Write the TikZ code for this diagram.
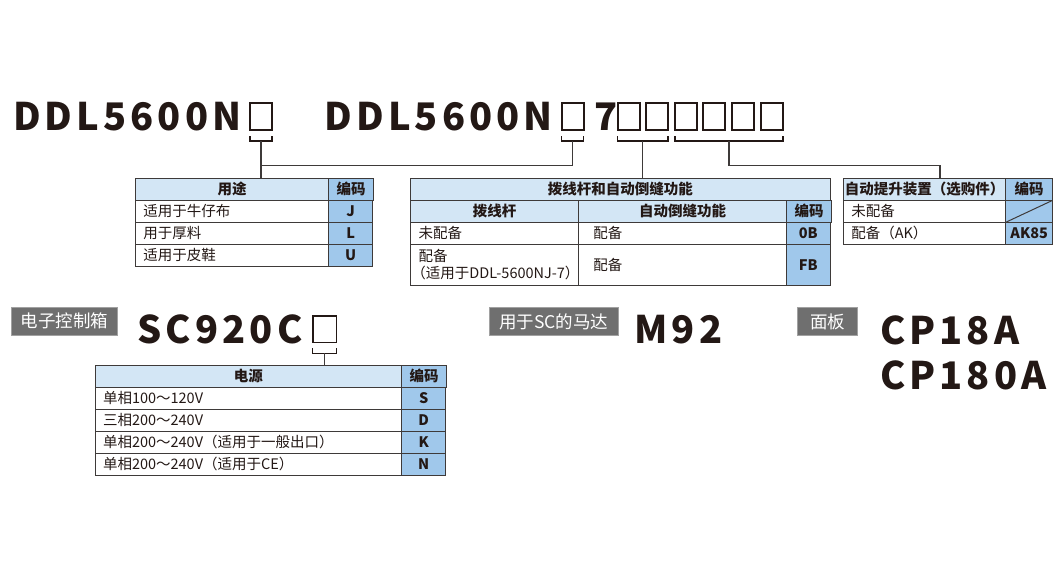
\documentclass[tikz,border=0pt]{standalone}
\usepackage{fontspec}
\setmainfont{Noto Sans CJK SC}
\newfontfamily\modelfont[LetterSpace=10.8]{Noto Sans CJK SC}
\usetikzlibrary{calc}
\definecolor{ink}{HTML}{231815}
\definecolor{rule}{HTML}{3E3A39}
\definecolor{headblue}{HTML}{D3E6F5}
\definecolor{codeblue}{HTML}{A0C8EB}
\definecolor{labelgray}{HTML}{6F6F6F}
\tikzset{
	ordering/.is family,
	ordering/.cd,
	model/.style = {
		anchor = base west,
		inner sep = 0pt,
		outer sep = 0pt,
		text = ink,
		font = \modelfont\bfseries\fontsize{38}{38}\selectfont,
	},
	slot/.style = {
		draw = ink,
		line width = 1.8pt,
		inner sep = 0pt,
		outer sep = 0pt,
		minimum width = 22pt,
		minimum height = 27pt,
		anchor = south west,
	},
	bracket/.style = {
		draw = ink,
		line width = 1.2pt,
	},
	link/.style = {
		draw = rule,
		line width = 1.2pt,
	},
	tag/.style = {
		fill = labelgray,
		draw = labelgray!65!white,
		line width = 0.8pt,
		text = white,
		inner sep = 0pt,
		outer sep = 0pt,
		minimum height = 28pt,
		anchor = north west,
		font = \fontsize{17.5}{17.5}\selectfont,
	},
	cell/.style = {
		draw = rule,
		line width = 1pt,
		inner ysep = 0pt,
		inner xsep = 8pt,
		outer sep = 0pt,
		minimum height = 22pt,
		anchor = north west,
		align = left,
		text = ink,
		font = \fontsize{14.5}{17}\selectfont,
	},
	head/.style = {
		ordering/cell,
		fill = headblue,
		align = center,
		font = \bfseries\fontsize{14.5}{17}\selectfont,
	},
	code head/.style = {
		ordering/head,
		fill = codeblue,
	},
	code/.style = {
		ordering/cell,
		fill = codeblue,
		align = center,
		inner xsep = 0pt,
		font = \bfseries\fontsize{14.5}{17}\selectfont,
	},
}

\begin{document}
\begin{tikzpicture}[x = 1pt, y = -1pt]
	\useasboundingbox (0, 0) rectangle (1060, 573);

	% model numbers and their code slots
	\node[ordering/model] (sewer) at (13, 130.7) {DDL5600N};
	\node[ordering/slot] (b1) at (250, 130) {};
	\node[ordering/model] (sewerfull) at (324.5, 130.7) {DDL5600N};
	\node[ordering/slot] (b2) at (561.6, 130) {};
	\node[ordering/model] (seven) at (594, 130.7) {7};
	\foreach \x [count = \i from 3] in {617.6, 645.9, 674.9, 703.2, 731.6, 760.9} {
		\node[ordering/slot] (b\i) at (\x, 130) {};
	}
	\node[ordering/model] (control) at (137.5, 343.3) {SC920C};
	\node[ordering/slot, minimum width = 23.8pt, minimum height = 26.5pt] (b9) at (312.6, 342.4) {};
	\node[ordering/model] (motor) at (634.5, 343.3) {M92};
	\node[ordering/model] (panel) at (880, 344.3) {CP18A};
	\node[ordering/model] (panelalt) at (880, 389) {CP180A};

	\node[ordering/tag, minimum width = 105.6pt] (controltag) at (11.7, 307.3) {电子控制箱};
	\node[ordering/tag, minimum width = 129pt] (motortag) at (489.3, 307.7) {用于SC的马达};
	\node[ordering/tag, minimum width = 60.4pt] (paneltag) at (797.3, 307.7) {面板};

	% usage
	\node[ordering/head, minimum width = 193.4pt] (use) at (135.3, 178.3) {用途};
	\node[ordering/code head, minimum width = 44pt] (usecode) at (use.north east) {编码};
	\foreach \txt/\c [count = \i] in {适用于牛仔布/J, 用于厚料/L, 适用于皮鞋/U} {
		\node[ordering/cell, text width = 177.4pt] (use\i) at (135.3, 178.3 + 22 * \i) {\txt};
		\node[ordering/code, minimum width = 44pt] (use\i c) at (use\i.north east) {\c};
	}

	% thread wiper and back-tack
	\node[ordering/head, minimum width = 419.3pt] (lever) at (410.7, 178.3) {拨线杆和自动倒缝功能};
	\node[ordering/head, minimum width = 167.6pt] (levera) at (lever.south west) {拨线杆};
	\node[ordering/head, minimum width = 208.4pt] (leverb) at (levera.north east) {自动倒缝功能};
	\node[ordering/code head, minimum width = 43.3pt] (levercode) at (leverb.north east) {编码};
	\node[ordering/cell, text width = 151.6pt] (lever1) at (levera.south west) {未配备};
	\node[ordering/cell, inner xsep = 15pt, text width = 178.4pt] (lever1b) at (lever1.north east) {配备};
	\node[ordering/code, minimum width = 43.3pt] (lever1c) at (lever1b.north east) {0B};
	\node[ordering/cell, text width = 151.6pt, minimum height = 40.7pt] (lever2) at (lever1.south west) {配备\\\mbox{\addfontfeatures{CharacterWidth = AlternateHalf}（适用于DDL-5600NJ-7）}};
	\node[ordering/cell, inner xsep = 15pt, text width = 178.4pt, minimum height = 40.7pt] (lever2b) at (lever2.north east) {配备};
	\node[ordering/code, minimum width = 43.3pt, minimum height = 40.7pt] (lever2c) at (lever2b.north east) {FB};

	% auto lifter
	\node[ordering/head, minimum width = 162.4pt, inner xsep = 0pt] (lift) at (843.3, 178.3) {自动提升装置（选购件）};
	\node[ordering/code head, minimum width = 47pt] (liftcode) at (lift.north east) {编码};
	\node[ordering/cell, text width = 146.4pt] (lift1) at (lift.south west) {未配备};
	\node[ordering/code, minimum width = 47pt] (lift1c) at (lift1.north east) {};
	\draw[ordering/link, line width = 1pt] (lift1c.south west) -- (lift1c.north east);
	\node[ordering/cell, text width = 146.4pt] (lift2) at (lift1.south west) {配备（AK）};
	\node[ordering/code, minimum width = 47pt] (lift2c) at (lift2.north east) {AK85};

	% power supply
	\node[ordering/head, minimum width = 306.7pt] (power) at (95, 365.3) {电源};
	\node[ordering/code head, minimum width = 44pt] (powercode) at (power.north east) {编码};
	\foreach \txt/\c [count = \i] in {单相100～120V/S, 三相200～240V/D, 单相200～240V（适用于一般出口）/K, 单相200～240V（适用于CE）/N} {
		\node[ordering/cell, text width = 290.7pt] (power\i) at (95, 365.3 + 22 * \i) {\txt};
		\node[ordering/code, minimum width = 44pt] (power\i c) at (power\i.north east) {\c};
	}

	% brackets under the slots
	\foreach \l/\r/\k in {b1/b1/k1, b2/b2/k2, b3/b4/k3, b5/b8/k4, b9/b9/k5} {
		\draw[ordering/bracket] ([yshift = -6pt]\l.south west) -- ([yshift = -11pt]\l.south west) -- ([yshift = -11pt]\r.south east) -- ([yshift = -6pt]\r.south east);
		\coordinate (\k) at ($([yshift = -11pt]\l.south west)!.5!([yshift = -11pt]\r.south east)$);
	}
	\draw[ordering/link] (k1) -- (k1 |- use.north);
	\draw[ordering/link] (k2) |- ([yshift = -24.7pt]k1);
	\draw[ordering/link] (k3) -- (k3 |- lever.north);
	\draw[ordering/link] (k4) -- ++(0, 24.7) -| ([xshift = 96.7pt]lift.north west);
	\draw[ordering/link] (k5) -- (k5 |- power.north);
\end{tikzpicture}
\end{document}
